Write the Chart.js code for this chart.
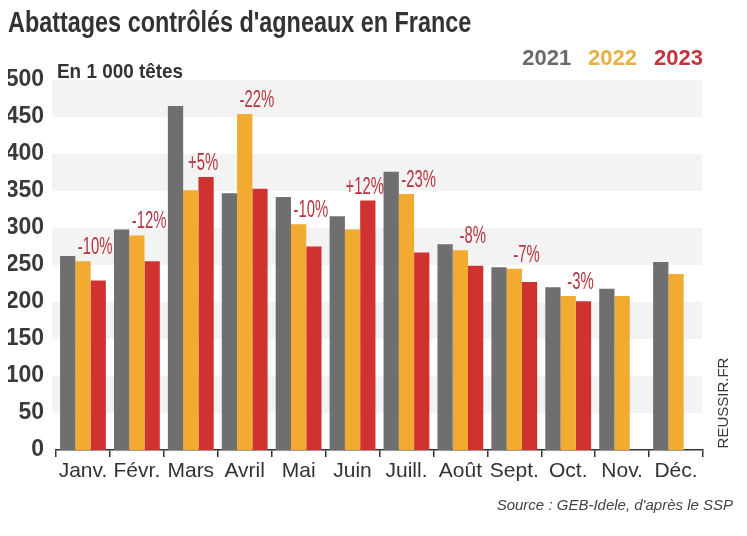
<!DOCTYPE html>
<html><head><meta charset="utf-8">
<script src="https://cdn.jsdelivr.net/npm/chart.js@4/dist/chart.umd.min.js"></script>
<style>html,body{margin:0;padding:0;background:#fff}#wrap{width:747px;height:536px;position:relative}</style>
</head><body><div id="wrap"><canvas id="c" width="747" height="536"></canvas></div>
<script>
const months = ['Janv.','Févr.','Mars','Avril','Mai','Juin','Juill.','Août','Sept.','Oct.','Nov.','Déc.'];
const abattages2021 = [262,298,465,347,342,316,376,278,247,220,218,254];
const abattages2022 = [255,290,351,454,305,298,346,270,245,208,208,238];
const abattages2023 = [229,255,369,353,275,337,267,249,227,201,null,null];
const variation2023 = ['-10%','-12%','+5%','-22%','-10%','+12%','-23%','-8%','-7%','-3%',null,null];
const years = ['2021','2022','2023'];
const titleText = "Abattages contrôlés d'agneaux en France";
const unitText = 'En 1 000 têtes';
const sourceText = "Source : GEB-Idele, d'après le SSP";
const creditText = 'REUSSIR.FR';

const SANS = '"Liberation Sans", Arial, sans-serif';
const barColors = ['#6f6f6f','#f2ab30','#d0332f'];
const legendColors = ['#6a6a6a','#e9b040','#c2343a'];

function condensedText(ctx, txt, x, y, sx){
  ctx.save(); ctx.translate(x, y); ctx.scale(sx, 1); ctx.fillText(txt, 0, 0); ctx.restore();
}

const bands = {
  id:'bands',
  beforeDatasetsDraw(chart){
    const {ctx, chartArea:a, scales:{y}} = chart;
    ctx.save(); ctx.fillStyle='#f3f3f3';
    const t = y.ticks;
    for(let i=0;i<t.length-1;i++){
      if(i%2===1){
        const top=y.getPixelForValue(t[i+1].value), bot=y.getPixelForValue(t[i].value);
        ctx.fillRect(a.left-4, top, a.right-a.left+3, bot-top);
      }
    }
    ctx.restore();
  }
};

const annotations = {
  id:'annotations',
  afterDatasetsDraw(chart){
    const ctx=chart.ctx;
    const m1=chart.getDatasetMeta(1), m2=chart.getDatasetMeta(2);
    ctx.save();
    ctx.fillStyle='#b5343d'; ctx.textAlign='center'; ctx.textBaseline='alphabetic';
    ctx.font='24px '+SANS;
    variation2023.forEach((txt,i)=>{
      if(!txt) return;
      const r=m2.data[i], yb=m1.data[i];
      const top=Math.min(r.y,yb.y);
      condensedText(ctx, txt, r.x-3, top-7, 0.62);
    });
    ctx.restore();
  },
  afterDraw(chart){
    const ctx=chart.ctx;
    ctx.save();
    ctx.textBaseline='alphabetic'; ctx.textAlign='left';
    ctx.fillStyle='#333';
    ctx.font='bold 30px '+SANS;
    condensedText(ctx, titleText, 8, 32, 0.78);
    ctx.fillStyle='#333';
    ctx.font='bold 21px '+SANS;
    condensedText(ctx, unitText, 57, 78, 0.9);
    ctx.fillStyle='#444'; ctx.textAlign='right';
    ctx.font='italic 15px '+SANS;
    ctx.fillText(sourceText, 733, 510);
    ctx.translate(724, 403); ctx.rotate(-Math.PI/2);
    ctx.textAlign='center'; ctx.textBaseline='middle'; ctx.fillStyle='#3a3a3a';
    ctx.font='15px '+SANS;
    ctx.fillText(creditText, 0, 0);
    ctx.restore();
  }
};

new Chart(document.getElementById('c'), {
  type:'bar',
  data:{
    labels: months,
    datasets:[
      {label:years[0], data:abattages2021, backgroundColor:barColors[0]},
      {label:years[1], data:abattages2022, backgroundColor:barColors[1]},
      {label:years[2], data:abattages2023, backgroundColor:barColors[2]}
    ]
  },
  options:{
    responsive:false, animation:false, devicePixelRatio:1,
    layout:{padding:{left:8, right:44, top:48, bottom:0}},
    datasets:{bar:{categoryPercentage:0.85, barPercentage:1, borderWidth:0}},
    plugins:{
      tooltip:{enabled:false},
      title:{display:false},
      legend:{position:'top', align:'end',
        labels:{boxWidth:6, boxHeight:0, padding:0, font:{family:SANS, size:22, weight:'bold'},
          generateLabels(chart){
            return chart.data.datasets.map((d,i)=>({text:d.label, fillStyle:'rgba(0,0,0,0)', strokeStyle:'rgba(0,0,0,0)', lineWidth:0, fontColor:legendColors[i], datasetIndex:i, hidden:false}));
          }}}
    },
    scales:{
      x:{
        grid:{offset:true, drawOnChartArea:false, drawTicks:true, tickLength:7, color:'#333', lineWidth:1.5},
        border:{display:true, color:'#333', width:1.5},
        ticks:{color:'#333', padding:2, font:{family:SANS, size:21}, maxRotation:0},
        afterFit(s){ s.height = 86; }
      },
      y:{
        min:0, max:500,
        grid:{display:false, drawTicks:false},
        border:{display:false},
        ticks:{stepSize:50, color:'#3a3a3a', padding:12, font:{family:SANS, size:23, weight:'bold'}},
        afterFit(s){ s.width = 48; }
      }
    }
  },
  plugins:[bands, annotations]
});
</script>
</body></html>
